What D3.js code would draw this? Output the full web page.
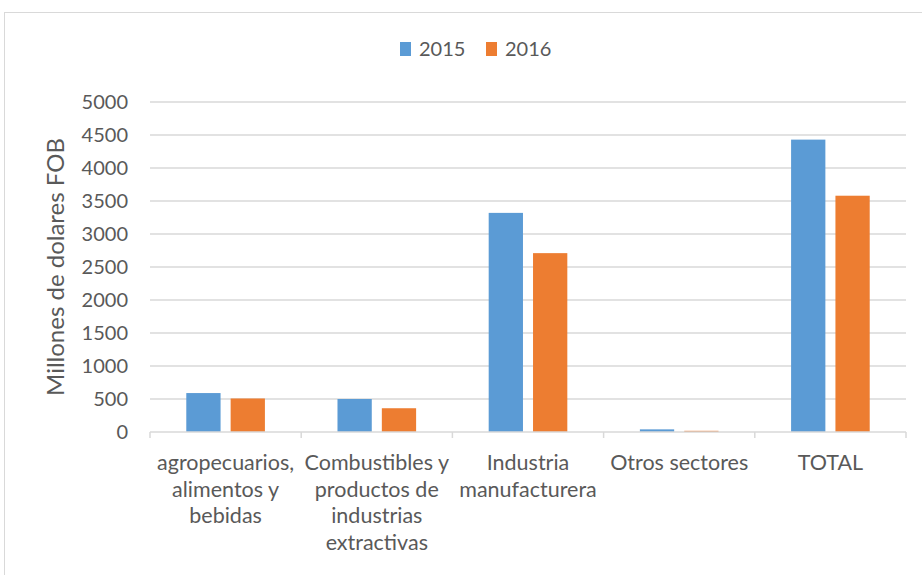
<!DOCTYPE html>
<meta charset="utf-8">
<style>
body { margin: 0; background: #fff; }
text { font-family: Lato, "Open Sans", sans-serif; fill: #595959; }
.grid line { stroke: #d9d9d9; stroke-width: 1.5; }
</style>
<svg width="922" height="575"></svg>
<script src="https://cdn.jsdelivr.net/npm/d3@7"></script>
<script>

var categories = [
  ["agropecuarios,", "alimentos y", "bebidas"],
  ["Combustibles y", "productos de", "industrias", "extractivas"],
  ["Industria", "manufacturera"],
  ["Otros sectores"],
  ["TOTAL"]
];
var series = ["2015", "2016"];
var values2015 = [590, 500, 3320, 40, 4430];
var values2016 = [508, 360, 2710, 18, 3580];
var yTicks = [0, 500, 1000, 1500, 2000, 2500, 3000, 3500, 4000, 4500, 5000];
var colors = ["#5b9bd5", "#ed7d31"];

var svg = d3.select("svg");

// frame
svg.append("rect")
    .attr("x", 4.5).attr("y", 12.5)
    .attr("width", 940).attr("height", 600)
    .attr("fill", "none").attr("stroke", "#d9d9d9");

var mLeft = 150, mRight = 906, mTop = 102, mBottom = 432;

var y = d3.scaleLinear().domain([0, 5000]).range([mBottom, mTop]);

var idx = d3.range(categories.length);
var x0 = d3.scaleBand().domain(idx).range([mLeft, mRight])
    .paddingInner(0.48).paddingOuter(0.24);
var x1 = d3.scaleBand().domain(series).range([0, x0.bandwidth()])
    .paddingInner(0.227);
var color = d3.scaleOrdinal().domain(series).range(colors);

// gridlines
svg.append("g").attr("class", "grid")
  .selectAll("line")
  .data(yTicks.filter(function(d) { return d > 0; }))
  .enter().append("line")
    .attr("x1", mLeft).attr("x2", mRight)
    .attr("y1", function(d) { return y(d); })
    .attr("y2", function(d) { return y(d); });

// y labels
var yAxis = svg.append("g")
    .attr("transform", "translate(" + (mLeft - 22) + ",0)")
    .call(d3.axisLeft(y).tickValues(yTicks).tickFormat(d3.format("d"))
      .tickSize(0).tickPadding(0));
yAxis.select(".domain").remove();
yAxis.selectAll("text")
    .style("font-size", "20px")
    .attr("fill", "#595959")
    .style("font-family", "Lato, 'Open Sans', sans-serif");

// bars
var rows = idx.map(function(i) {
  return [{s: "2015", v: values2015[i]}, {s: "2016", v: values2016[i]}];
});

svg.append("g").selectAll("g")
  .data(rows)
  .enter().append("g")
    .attr("transform", function(d, i) { return "translate(" + x0(i) + ",0)"; })
  .selectAll("rect")
  .data(function(d) { return d; })
  .enter().append("rect")
    .attr("x", function(d) { return x1(d.s); })
    .attr("width", x1.bandwidth())
    .attr("y", function(d) { return y(d.v); })
    .attr("height", function(d) { return mBottom - y(d.v); })
    .attr("fill", function(d) { return color(d.s); });

// x axis line and ticks at category boundaries
var step = x0.step();
var xa = svg.append("g");
xa.append("line")
    .attr("x1", mLeft).attr("x2", mRight)
    .attr("y1", mBottom).attr("y2", mBottom)
    .attr("stroke", "#d9d9d9").attr("stroke-width", 1.5);
xa.selectAll(".tk")
  .data(d3.range(categories.length + 1))
  .enter().append("line")
    .attr("x1", function(i) { return mLeft + i * step; })
    .attr("x2", function(i) { return mLeft + i * step; })
    .attr("y1", mBottom).attr("y2", mBottom + 6)
    .attr("stroke", "#d9d9d9").attr("stroke-width", 1.5);

// category labels
var lab = xa.selectAll(".lab")
  .data(categories)
  .enter().append("text")
    .attr("text-anchor", "middle")
    .attr("x", function(d, i) { return x0(i) + x0.bandwidth() / 2; })
    .attr("y", 470)
    .style("font-size", "21.5px");
lab.selectAll("tspan")
  .data(function(d) { return d; })
  .enter().append("tspan")
    .attr("x", function() { return d3.select(this.parentNode).attr("x"); })
    .attr("dy", function(d, j) { return j === 0 ? 0 : 26.7; })
    .text(function(d) { return d; });

// y title
svg.append("text")
    .attr("transform", "translate(64,267) rotate(-90)")
    .attr("text-anchor", "middle")
    .style("font-size", "24px")
    .text("Millones de dolares FOB");

// legend
var lg = svg.append("g").selectAll("g")
  .data(series)
  .enter().append("g")
    .attr("transform", function(d, i) { return "translate(" + (400 + i * 86) + ",42)"; });
lg.append("rect")
    .attr("width", 11).attr("height", 14)
    .attr("fill", function(d) { return color(d); });
lg.append("text")
    .attr("x", 19).attr("y", 14)
    .style("font-size", "20px")
    .text(function(d) { return d; });

</script>
